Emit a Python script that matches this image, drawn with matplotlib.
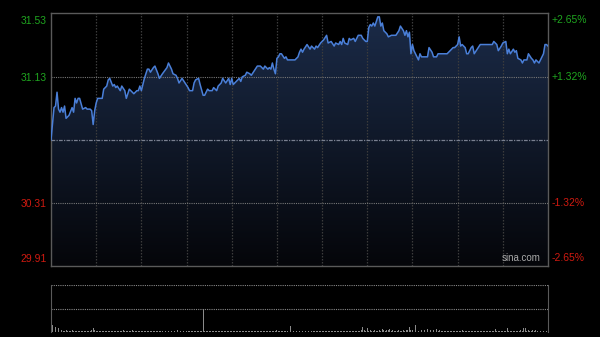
import matplotlib
matplotlib.use("Agg")
import matplotlib.pyplot as plt
import numpy as np
from matplotlib.transforms import ScaledTranslation, blended_transform_factory

# ---- data ----
prev_close = 30.72
minutes = [0, 2, 3, 4, 5, 6, 7, 8, 9, 10, 12, 14, 15, 16, 17, 18, 19, 21, 23, 24,
           26, 27, 28, 29, 30, 31, 33, 34, 35, 37, 38, 39, 41, 42, 43, 44, 46, 47, 49, 50,
           52, 54, 55, 57, 58, 59, 60, 62, 64, 65, 66, 68, 69, 71, 72, 74, 77, 78, 80, 81,
           83, 84, 85, 87, 89, 91, 92, 94, 95, 96, 98, 99, 101, 102, 104, 105, 107, 108, 110, 111,
           113, 114, 116, 118, 119, 120, 121, 123, 125, 126, 127, 129, 130, 132, 133, 135, 137, 139, 141, 142,
           144, 145, 146, 147, 148, 149, 150, 151, 152, 153, 155, 156, 157, 160, 162, 164, 165, 166, 167, 168,
           170, 172, 173, 175, 176, 177, 179, 181, 183, 184, 186, 188, 189, 191, 192, 193, 194, 195, 197, 198,
           199, 201, 202, 204, 206, 207, 209, 210, 211, 212, 213, 214, 215, 217, 218, 219, 220, 221, 223, 224,
           226, 228, 229, 231, 232, 234, 235, 236, 237, 238, 239, 240, 241, 243, 244, 245, 246, 248, 250, 251,
           253, 254, 256, 257, 260, 263, 265, 267, 268, 270, 271, 272, 273, 275, 276, 277, 279, 280, 281, 283,
           285, 287, 290, 293, 294, 296, 297, 299, 300, 302, 303, 304, 305, 307, 308, 309, 310, 312, 313, 314,
           316, 317, 319, 320, 321, 322, 324, 325, 327, 328, 329, 330]
prices = [30.72, 30.93, 30.94, 31.03, 30.92, 30.90, 30.93, 30.90, 30.94, 30.86, 30.88, 30.93, 30.90, 30.99, 30.96, 30.99, 30.99, 30.92, 30.93, 30.92,
          30.92, 30.91, 30.82, 30.91, 30.96, 30.99, 30.99, 30.99, 31.05, 31.07, 31.11, 31.12, 31.07, 31.08, 31.06, 31.07, 31.04, 31.07, 31.04, 30.99,
          31.05, 31.03, 31.02, 31.04, 31.04, 31.07, 31.04, 31.12, 31.18, 31.18, 31.16, 31.19, 31.20, 31.15, 31.12, 31.15, 31.19, 31.22, 31.18, 31.15,
          31.14, 31.12, 31.09, 31.12, 31.09, 31.06, 31.04, 31.04, 31.09, 31.11, 31.12, 31.08, 31.01, 31.01, 31.05, 31.04, 31.04, 31.06, 31.04, 31.07,
          31.09, 31.12, 31.09, 31.12, 31.08, 31.12, 31.08, 31.10, 31.12, 31.10, 31.13, 31.14, 31.16, 31.15, 31.14, 31.17, 31.20, 31.20, 31.18, 31.20,
          31.18, 31.19, 31.18, 31.22, 31.18, 31.15, 31.25, 31.26, 31.28, 31.28, 31.25, 31.26, 31.24, 31.24, 31.24, 31.26, 31.29, 31.31, 31.29, 31.31,
          31.34, 31.31, 31.33, 31.31, 31.33, 31.32, 31.35, 31.37, 31.40, 31.35, 31.36, 31.33, 31.35, 31.34, 31.36, 31.34, 31.38, 31.35, 31.34, 31.38,
          31.37, 31.38, 31.36, 31.40, 31.40, 31.38, 31.36, 31.36, 31.45, 31.47, 31.46, 31.48, 31.46, 31.52, 31.52, 31.46, 31.48, 31.43, 31.41, 31.39,
          31.40, 31.40, 31.40, 31.43, 31.46, 31.43, 31.40, 31.43, 31.39, 31.42, 31.28, 31.34, 31.30, 31.26, 31.24, 31.28, 31.26, 31.26, 31.26, 31.32,
          31.29, 31.26, 31.26, 31.28, 31.28, 31.28, 31.30, 31.32, 31.32, 31.34, 31.39, 31.33, 31.34, 31.32, 31.28, 31.28, 31.32, 31.33, 31.28, 31.31,
          31.34, 31.34, 31.34, 31.34, 31.36, 31.34, 31.30, 31.33, 31.35, 31.36, 31.28, 31.31, 31.28, 31.31, 31.29, 31.30, 31.25, 31.24, 31.22, 31.24,
          31.24, 31.28, 31.25, 31.24, 31.22, 31.24, 31.22, 31.24, 31.28, 31.34, 31.34, 31.33]

volume = [6, 15, 12, 10, 14, 8, 6, 4, 3, 3,
          4, 3, 2, 3, 4, 2, 3, 2, 3, 2,
          3, 2, 2, 3, 2, 3, 2, 4, 9, 4,
          3, 2, 3, 2, 2, 3, 2, 3, 2, 2,
          3, 2, 2, 3, 2, 2, 3, 2, 5, 3,
          2, 3, 2, 2, 4, 2, 3, 2, 2, 3,
          2, 2, 3, 2, 2, 3, 2, 2, 3, 2,
          2, 3, 2, 2, 3, 2, 2, 3, 2, 3,
          2, 2, 3, 2, 5, 3, 2, 3, 2, 2,
          3, 2, 2, 3, 2, 2, 3, 2, 3, 2,
          3, 50, 3, 2, 2, 3, 2, 2, 3, 2,
          2, 3, 2, 2, 3, 2, 2, 3, 2, 2,
          3, 2, 2, 3, 2, 2, 3, 2, 2, 3,
          2, 2, 3, 2, 2, 3, 2, 2, 3, 2,
          2, 3, 2, 2, 3, 2, 2, 3, 2, 3,
          5, 3, 2, 3, 2, 2, 3, 2, 4, 12,
          4, 3, 2, 3, 2, 2, 3, 2, 2, 3,
          2, 3, 2, 2, 3, 2, 2, 3, 2, 2,
          3, 2, 2, 3, 2, 2, 3, 2, 2, 3,
          2, 2, 3, 2, 2, 3, 2, 2, 3, 2,
          3, 2, 3, 2, 3, 2, 4, 11, 4, 3,
          8, 3, 4, 3, 3, 4, 3, 3, 4, 3,
          6, 4, 3, 5, 4, 6, 3, 4, 3, 3,
          3, 4, 3, 3, 4, 3, 5, 4, 10, 4,
          4, 3, 15, 4, 3, 5, 4, 7, 4, 5,
          6, 4, 5, 7, 4, 5, 6, 3, 4, 3,
          3, 2, 3, 2, 3, 2, 3, 3, 2, 3,
          2, 3, 3, 5, 3, 2, 3, 2, 3, 2,
          3, 2, 3, 2, 3, 2, 3, 3, 2, 3,
          2, 3, 3, 2, 3, 6, 3, 2, 3, 2,
          3, 3, 3, 9, 3, 2, 3, 3, 2, 3,
          3, 3, 4, 3, 9, 9, 3, 4, 3, 3,
          4, 3, 4, 3, 4, 3, 4, 3, 4, 3, 3]

left_ticks = [31.53, 31.13, 30.31, 29.91]
left_labels = ["31.53", "31.13", "30.31", "29.91"]
right_labels = ["+2.65%", "+1.32%", "-1.32%", "-2.65%"]
tick_colors = ["#1fa51f", "#1fa51f", "#d01a10", "#d01a10"]
grid_minutes = [30, 60, 90, 120, 150, 180, 210, 240, 270, 300]

# ---- figure ----
fig = plt.figure(figsize=(6.0, 3.37), dpi=100, facecolor="black")
plt.rcParams["font.family"] = ["Liberation Sans", "DejaVu Sans"]

ax = fig.add_axes([51 / 600, 1 - 266 / 337, 497 / 600, 253 / 337])
ax.set_facecolor("black")
ymin, ymax = 29.90, 31.545
ax.set_xlim(0, 330)
ax.set_ylim(ymin, ymax)

# gradient fill under line
fill = ax.fill_between(minutes, prices, ymin, color="none", lw=0)
grad = np.linspace(1, 0, 256).reshape(-1, 1)
top_c = np.array([0x1b, 0x2b, 0x48]) / 255
bot_c = np.array([0x05, 0x06, 0x0a]) / 255
img = top_c * grad[..., None] + bot_c * (1 - grad[..., None])
im = ax.imshow(img, extent=[0, 330, ymin, 31.53], aspect="auto", origin="upper", zorder=1)
path = fill.get_paths()[0]
im.set_clip_path(path, transform=ax.transData)

ax.plot(minutes, prices, color="#4a7fd8", lw=1.1, zorder=4)

for m in grid_minutes:
    ax.axvline(m, color="#3c3c3c", lw=0.9, ls=(0, (1.2, 1.2)), zorder=2)
for v in [31.13, 30.31]:
    ax.axhline(v, color="#777777", lw=0.8, ls=(0, (1, 1)), zorder=2)
ax.axhline(prev_close, color="#7a8090", lw=0.9, ls=(0, (3, 1, 1, 1)), zorder=3)

for s in ax.spines.values():
    s.set_color("#5a5a5a")
    s.set_linewidth(1.0)

ax.set_xticks([])
ax.set_yticks(left_ticks)
ax.set_yticklabels(left_labels, fontsize=7.5)
ax.tick_params(axis="y", length=0, pad=3)
offsets = [-3.5, 0, 0, 4.5]
for lbl, c, off in zip(ax.get_yticklabels(), tick_colors, offsets):
    lbl.set_color(c)
    lbl.set_transform(lbl.get_transform() + ScaledTranslation(0, off / 72, fig.dpi_scale_trans))

trans = blended_transform_factory(ax.transAxes, ax.transData)
for v, t, c, off in zip(left_ticks, right_labels, tick_colors, offsets):
    txt = ax.text(1.008, v, t, color=c, fontsize=7.5, ha="left", va="center", transform=trans)
    txt.set_transform(trans + ScaledTranslation(0, off / 72, fig.dpi_scale_trans))

ax.text(0.985, 0.012, "sina.com", color="#aaaaaa", fontsize=7, ha="right", va="bottom",
        transform=ax.transAxes, zorder=5)

# ---- volume panel ----
vax = fig.add_axes([51 / 600, 1 - 332 / 337, 497 / 600, 47 / 337])
vax.set_facecolor("black")
vax.set_xlim(0, 330)
vax.set_ylim(0, 100)
vax.bar(np.arange(len(volume)), volume, width=0.6, color="#8a8a8a", lw=0)
vax.axhline(100, color="#888888", lw=0.8, ls=(0, (1, 1)))
vax.axhline(50, color="#888888", lw=0.8, ls=(0, (1, 1)))
vax.spines["top"].set_visible(False)
vax.spines["bottom"].set_visible(False)
for k in ["left", "right"]:
    vax.spines[k].set_color("#5a5a5a")
vax.set_xticks([])
vax.set_yticks([])

fig.savefig("out.png", dpi=100, facecolor="black")
